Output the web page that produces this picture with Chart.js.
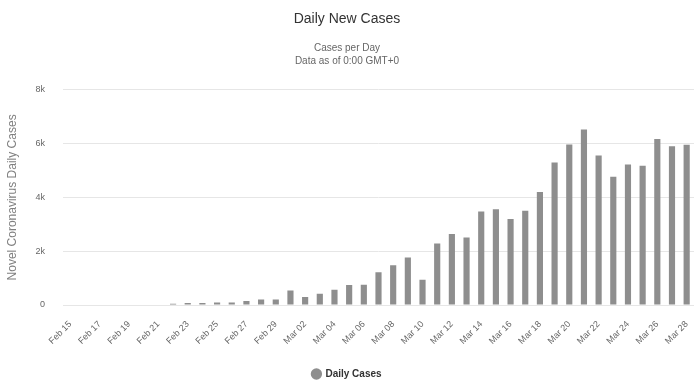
<!DOCTYPE html>
<html>
<head>
<meta charset="utf-8">
<script src="https://cdn.jsdelivr.net/npm/chart.js@4"></script>
<style>
html,body{margin:0;padding:0;background:#fff;}
#wrap{width:694px;height:385px;}
</style>
</head>
<body>
<div id="wrap"><canvas id="c" width="694" height="385"></canvas></div>
<script>
const categories = [
  "Feb 15","Feb 16","Feb 17","Feb 18","Feb 19","Feb 20","Feb 21","Feb 22","Feb 23","Feb 24",
  "Feb 25","Feb 26","Feb 27","Feb 28","Feb 29","Mar 01","Mar 02","Mar 03","Mar 04","Mar 05",
  "Mar 06","Mar 07","Mar 08","Mar 09","Mar 10","Mar 11","Mar 12","Mar 13","Mar 14","Mar 15",
  "Mar 16","Mar 17","Mar 18","Mar 19","Mar 20","Mar 21","Mar 22","Mar 23","Mar 24","Mar 25",
  "Mar 26","Mar 27","Mar 28"
];
const dailyCases = [
  0,0,0,0,0,0,15,45,70,75,
  90,90,150,200,200,540,300,420,570,740,
  750,1220,1480,1770,940,2290,2640,2510,3480,3560,
  3200,3500,4200,5300,5970,6520,5560,4770,5220,5180,
  6170,5900,5960
];
const yTicks = [0,2000,4000,6000,8000];
const yTickLabels = ["0","2k","4k","6k","8k"];

const FONT = "'Liberation Sans', Arial, sans-serif";
new Chart(document.getElementById('c'), {
  type: 'bar',
  data: {
    labels: categories,
    datasets: [{
      label: 'Daily Cases',
      data: dailyCases,
      backgroundColor: '#8e8e8e',
      borderWidth: 0,
      barPercentage: 0.42,
      categoryPercentage: 1.0
    }]
  },
  options: {
    responsive: false,
    animation: false,
    devicePixelRatio: 1,
    layout: { padding: { left: 0, right: 0, top: 0, bottom: -4 } },
    plugins: {
      title: {
        display: true,
        text: 'Daily New Cases',
        color: '#333333',
        font: { family: FONT, size: 14, weight: 'normal' },
        padding: { top: 11, bottom: 14 }
      },
      subtitle: {
        display: true,
        text: ['Cases per Day', 'Data as of 0:00 GMT+0'],
        color: '#666666',
        font: { family: FONT, size: 10, weight: 'normal', lineHeight: 1.3 },
        padding: { top: 0, bottom: 22 }
      },
      legend: {
        position: 'bottom',
        labels: {
          usePointStyle: true,
          pointStyle: 'circle',
          boxWidth: 8,
          boxHeight: 8,
          color: '#333333',
          font: { family: FONT, size: 10, weight: 'bold' },
          padding: 2
        }
      },
      tooltip: { enabled: false }
    },
    scales: {
      x: {
        grid: { display: false },
        border: { display: false },
        afterFit: function(axis) { axis.height = 62; axis.paddingRight = 0; },
        ticks: {
          autoSkip: false,
          maxRotation: 45,
          minRotation: 45,
          color: '#666666',
          font: { family: FONT, size: 9 },
          padding: 6,
          callback: function(v, i) { return i % 2 === 0 ? categories[i] : ''; }
        }
      },
      y: {
        min: 0,
        max: 8000,
        afterBuildTicks: function(axis) { axis.ticks = yTicks.map(v => ({ value: v })); },
        afterFit: function(axis) { axis.width = 63; },
        grid: { color: '#e6e6e6', drawTicks: false },
        border: { display: false },
        ticks: {
          color: '#666666',
          font: { family: FONT, size: 9 },
          padding: 18,
          callback: function(v) { const i = yTicks.indexOf(v); return i >= 0 ? yTickLabels[i] : ''; }
        },
        title: {
          display: true,
          text: 'Novel Coronavirus Daily Cases',
          color: '#808080',
          font: { family: FONT, size: 12 },
          padding: { top: 5, bottom: 0 }
        }
      }
    }
  }
});
</script>
</body>
</html>
